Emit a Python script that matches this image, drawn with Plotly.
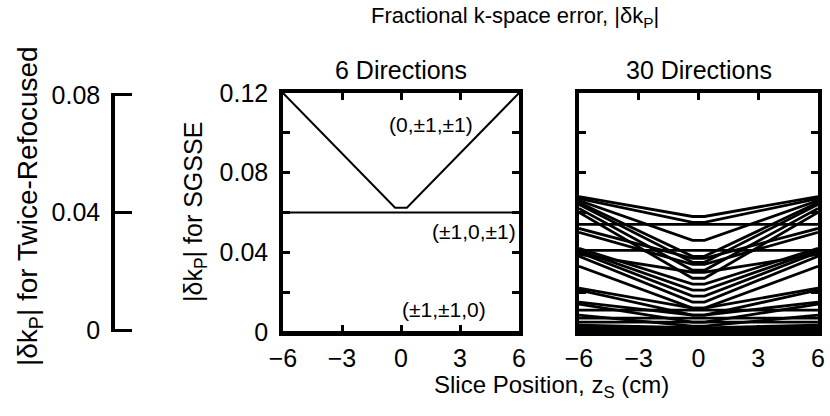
import plotly.graph_objects as go

# ---------------- data ----------------
ZS = [-6, -0.3, 0.3, 6]          # slice positions (cm) sampled for each curve
X_TICKS = [-6, -3, 0, 3, 6]
Y_TICKS = [0, 0.02, 0.04, 0.06, 0.08, 0.10, 0.12]
Y_TICKTEXT = ["0", "", "0.04", "", "0.08", "", "0.12"]
LEFT_TICKS = [0, 0.04, 0.08]
LEFT_TICKTEXT = ["0", "0.04", "0.08"]

# 6 directions: value at edges (|zs|=6) and at centre (zs~0)
SIX_LABELS = ["(0,±1,±1)", "(±1,0,±1)", "(±1,±1,0)"]
SIX_EDGE = [0.120, 0.060, 0.000]
SIX_CENTER = [0.0624, 0.060, 0.000]
SIX_LABEL_X = [1.5, 3.7, 2.2]
SIX_LABEL_Y = [0.104, 0.0505, 0.0115]

# 30 directions: edge value and centre value of each curve
THIRTY_EDGE = [0.068, 0.067, 0.066, 0.065, 0.064, 0.062, 0.060, 0.054,
               0.052, 0.050, 0.041, 0.042, 0.041, 0.040, 0.039, 0.038,
               0.033, 0.022, 0.021, 0.015, 0.014, 0.011, 0.0085, 0.007,
               0.005, 0.0035, 0.0027, 0.0015, 0.001, 0.0]
THIRTY_CENTER = [0.058, 0.055, 0.046, 0.038, 0.035, 0.031, 0.027, 0.054,
                 0.037, 0.034, 0.041, 0.024, 0.021, 0.018, 0.030, 0.015,
                 0.012, 0.012, 0.0085, 0.0085, 0.005, 0.011, 0.003, 0.007,
                 0.005, 0.002, 0.001, 0.0015, 0.001, 0.0]

# ---------------- layout helpers ----------------
W, H = 830, 416
def px(x):
    return x / W
def py(y):
    return 1 - y / H

P1 = [px(283), px(519)]
P2 = [px(579), px(818)]
PY = [py(332), py(93)]
PL = [px(115), px(140)]

FONT = "Liberation Sans, Arial, Helvetica, sans-serif"
LW_AX = 3.5
TICK_SIZE = 25

fig = go.Figure()

for e, c in zip(SIX_EDGE, SIX_CENTER):
    fig.add_trace(go.Scatter(x=ZS, y=[e, c, c, e], mode="lines",
                             line=dict(color="black", width=2),
                             xaxis="x", yaxis="y", showlegend=False,
                             hoverinfo="skip"))

for e, c in zip(THIRTY_EDGE, THIRTY_CENTER):
    fig.add_trace(go.Scatter(x=ZS, y=[e, c, c, e], mode="lines",
                             line=dict(color="black", width=2.8),
                             xaxis="x2", yaxis="y2", showlegend=False,
                             hoverinfo="skip"))

fig.add_trace(go.Scatter(x=[None], y=[None], xaxis="x3", yaxis="y3",
                         showlegend=False, hoverinfo="skip"))

xcommon = dict(range=[-6, 6], tickvals=X_TICKS, ticks="inside", ticklen=7,
               tickwidth=3, tickcolor="black", showline=True, linewidth=LW_AX,
               linecolor="black", mirror="ticks", showgrid=False,
               zeroline=False, automargin=False,
               tickfont=dict(family=FONT, size=TICK_SIZE, color="black"),
               ticklabelstandoff=1)
ycommon = dict(range=[0, 0.12], tickvals=Y_TICKS, ticks="inside", ticklen=7,
               tickwidth=3, tickcolor="black", showline=True, linewidth=LW_AX,
               linecolor="black", mirror="ticks", showgrid=False,
               zeroline=False, automargin=False,
               tickfont=dict(family=FONT, size=TICK_SIZE, color="black"))

fig.update_layout(
    width=W, height=H, margin=dict(l=0, r=0, t=0, b=0, pad=0),
    autosize=False,
    paper_bgcolor="white", plot_bgcolor="white",
    font=dict(family=FONT, color="black"),
    xaxis=dict(domain=P1, anchor="y", **xcommon),
    yaxis=dict(domain=PY, anchor="x", ticktext=Y_TICKTEXT,
               ticklabelstandoff=6, **ycommon),
    xaxis2=dict(domain=P2, anchor="y2", **xcommon),
    yaxis2=dict(domain=PY, anchor="x2", showticklabels=False, **ycommon),
    xaxis3=dict(domain=PL, anchor="y3", visible=False, range=[0, 1],
                automargin=False),
    yaxis3=dict(domain=PY, anchor="x3", range=[-0.0006, 0.0806],
                tickvals=LEFT_TICKS, ticktext=LEFT_TICKTEXT, ticks="inside",
                ticklen=17, tickwidth=3, tickcolor="black", showline=True,
                linewidth=LW_AX, linecolor="black", showgrid=False,
                zeroline=False, ticklabelstandoff=6, automargin=False,
                tickfont=dict(family=FONT, size=TICK_SIZE, color="black")),
)

def txt(text, x, y, size, angle=0, xref="paper", yref="paper"):
    return dict(text=text, x=x, y=y, xref=xref, yref=yref, showarrow=False,
                xanchor="center", yanchor="middle", textangle=angle,
                font=dict(family=FONT, size=size, color="black"))

ann = []
for t, x, y in zip(SIX_LABELS, SIX_LABEL_X, SIX_LABEL_Y):
    ann.append(txt(t, x, y, 21, xref="x", yref="y"))
ann += [
    txt("Fractional k-space error, |δk<sub>P</sub>|", px(515), py(17), 22),
    txt("6 Directions", sum(P1) / 2, py(70), 25),
    txt("30 Directions", sum(P2) / 2, py(70), 25),
    txt("Slice Position, z<sub>S</sub> (cm)", px(551), py(386), 24),
    txt("|δk<sub>P</sub>| for SGSSE", px(195), py(212), 25, angle=-90),
    txt("|δk<sub>P</sub>| for Twice-Refocused", px(29), py(206), 28, angle=-90),
]
fig.update_layout(annotations=ann)

fig.write_html("out.html")
